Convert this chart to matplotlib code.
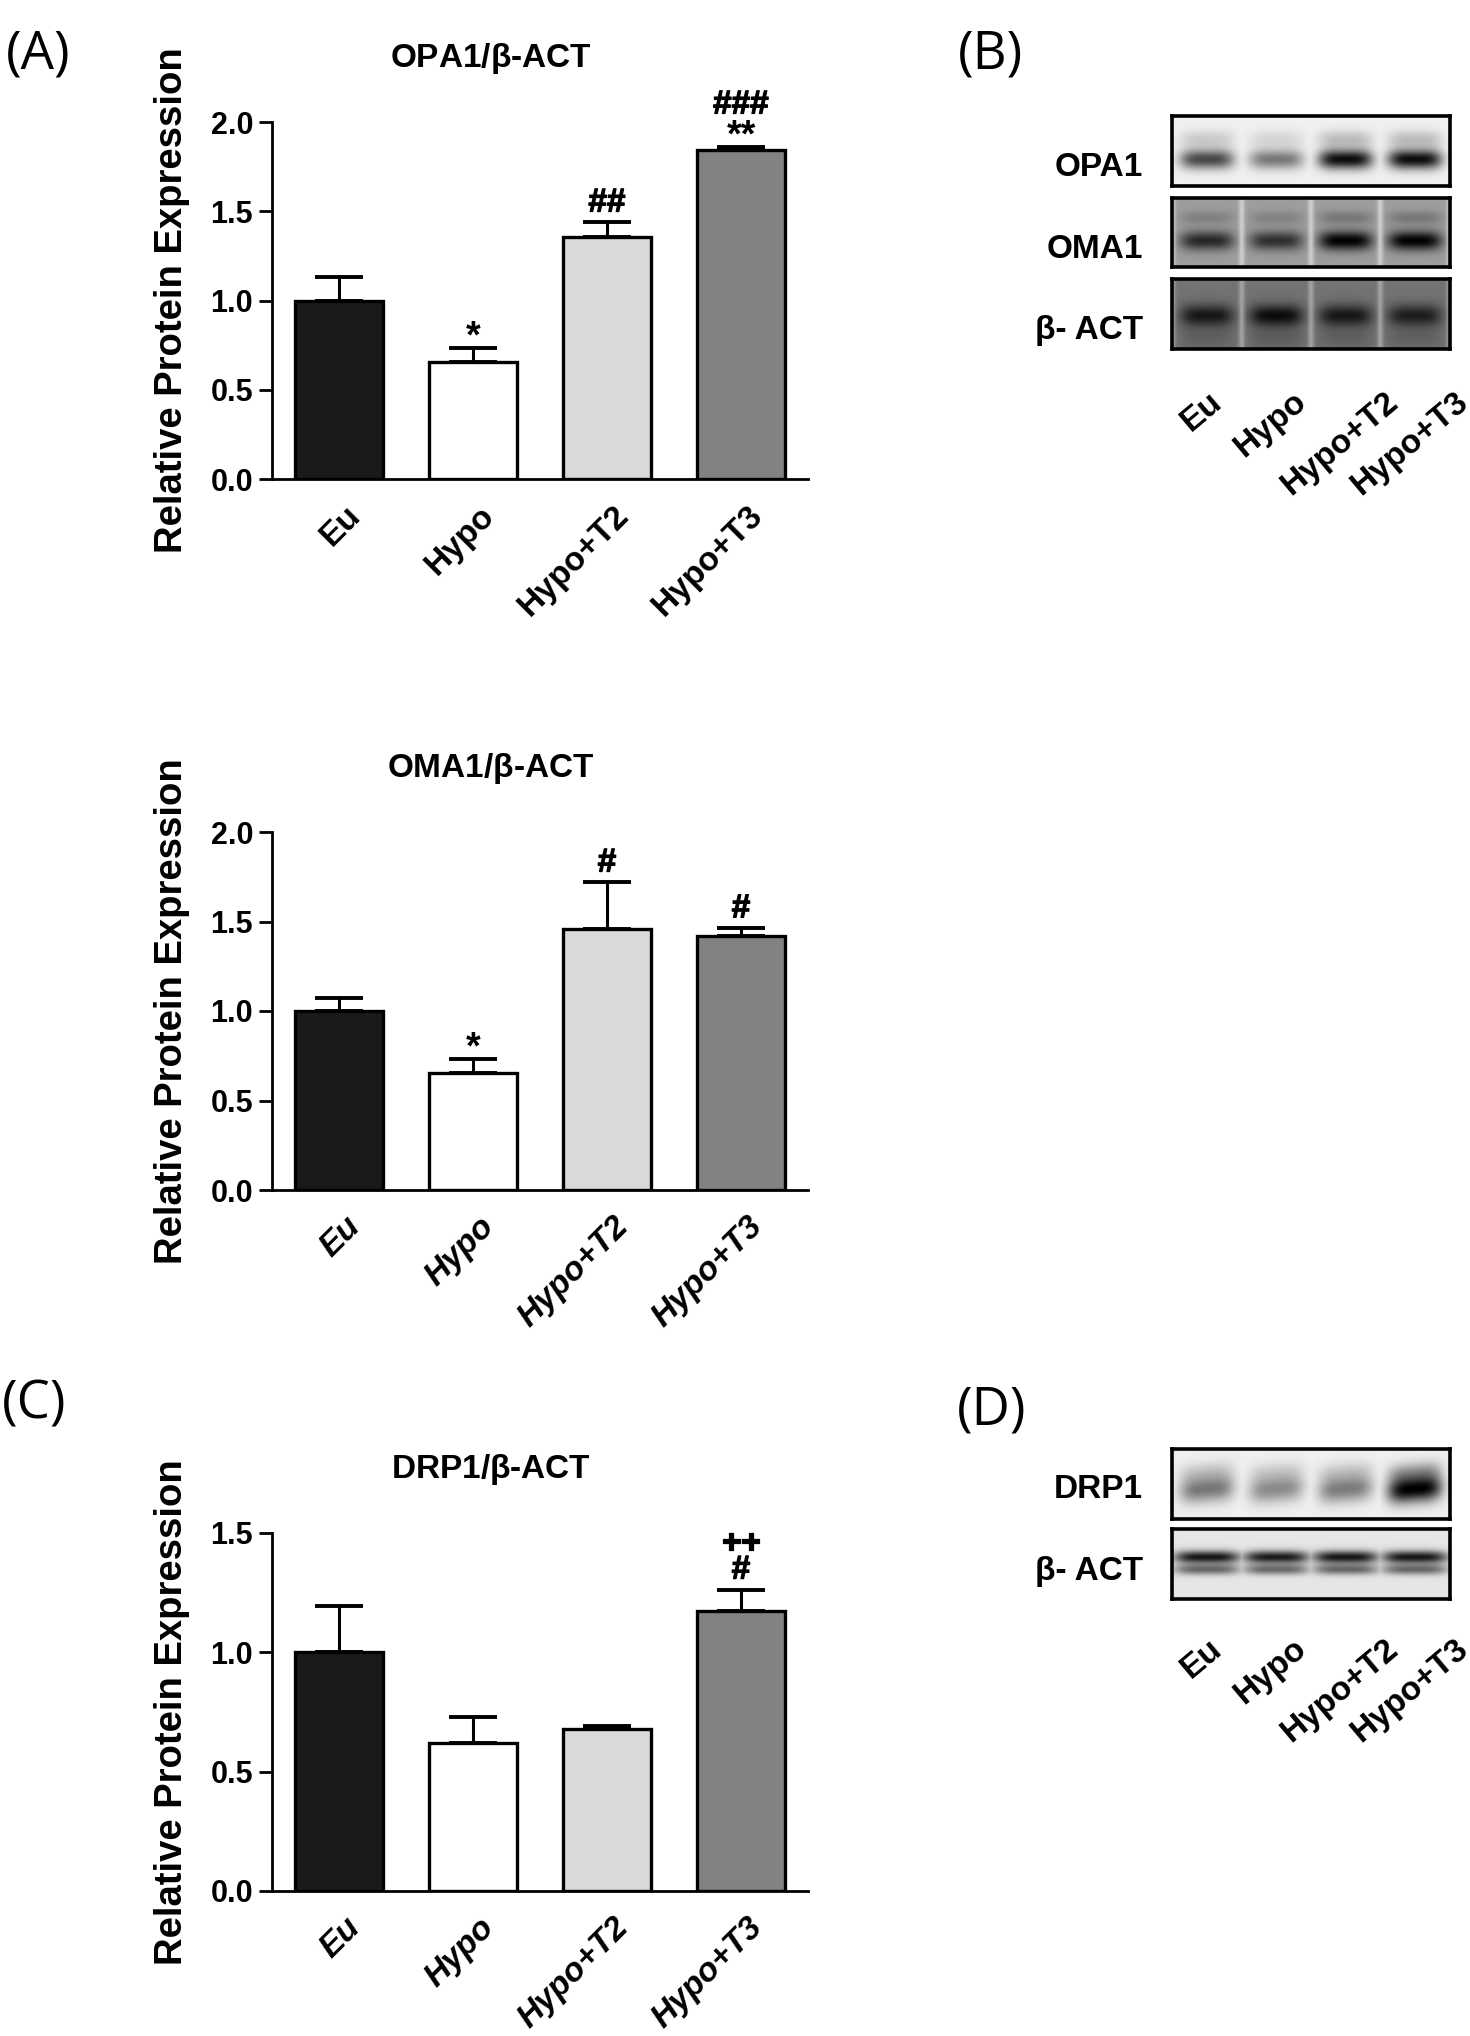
import numpy as np
import matplotlib
matplotlib.use("Agg")
import matplotlib.pyplot as plt
import matplotlib.patheffects as pe
from matplotlib.transforms import ScaledTranslation
from matplotlib import font_manager

# ---------------- data ----------------
groups = ["Eu", "Hypo", "Hypo+T2", "Hypo+T3"]
bar_colors = ["#1a1a1a", "#ffffff", "#d9d9d9", "#828282"]

opa1_mean = [1.00, 0.655, 1.355, 1.843]
opa1_err = [0.13, 0.078, 0.082, 0.015]
opa1_sig1 = ["", "*", "##", "**"]
opa1_sig2 = ["", "", "", "###"]

oma1_mean = [1.00, 0.652, 1.458, 1.420]
oma1_err = [0.075, 0.080, 0.260, 0.042]
oma1_sig1 = ["", "*", "#", "#"]
oma1_sig2 = ["", "", "", ""]

drp1_mean = [1.00, 0.622, 0.680, 1.174]
drp1_err = [0.195, 0.105, 0.012, 0.089]
drp1_sig1 = ["", "", "", "#"]
drp1_sig2 = ["", "", "", "++"]

# western blot band darkness per lane (0 = none, 1 = saturated)
blot_opa1 = [0.70, 0.50, 0.95, 0.95]
blot_oma1 = [0.75, 0.70, 1.00, 1.00]
blot_bact_b = [0.80, 0.90, 0.80, 0.75]
blot_drp1 = [0.50, 0.42, 0.48, 1.00]
blot_bact_d = [0.90, 0.88, 0.90, 0.90]

# ---------------- fonts ----------------
def pick(*names):
    for n in names:
        try:
            font_manager.findfont(n, fallback_to_default=False)
            return n
        except Exception:
            pass
    return "DejaVu Sans"

SANS = pick("Liberation Sans", "Arial")
LETTER = pick("Open Sans", "Noto Sans")
plt.rcParams["font.family"] = [SANS, "DejaVu Sans"]
plt.rcParams["mathtext.fontset"] = "stix"
plt.rcParams["mathtext.default"] = "regular"

W, H = 1470, 2036
fig = plt.figure(figsize=(W / 100, H / 100), dpi=100)
PX = 1 / 100.0  # inches per pixel
HEAVY = [pe.withStroke(linewidth=0.9, foreground="black")]


def fr_x(px):
    return px / W


def fr_y(px):
    return 1 - px / H


def bar_panel(top_px, bot_px, ymax, yticks, means, errs, sig1, sig2, title, italic):
    left, right = 272, 808
    ax = fig.add_axes([fr_x(left), fr_y(bot_px), fr_x(right - left),
                       (bot_px - top_px) / H])
    x = np.arange(len(groups))
    ax.bar(x, means, width=0.655, color=bar_colors, edgecolor="black",
           linewidth=2.4, zorder=2)
    ax.errorbar(x, means, yerr=[np.zeros(len(errs)), errs], fmt="none",
                ecolor="black", elinewidth=2.2, capsize=17, capthick=2.8,
                zorder=3)
    ax.set_xlim(-0.5, 3.5)
    ax.set_ylim(0, ymax)
    for s in ["top", "right"]:
        ax.spines[s].set_visible(False)
    for s in ["left", "bottom"]:
        ax.spines[s].set_linewidth(2.0)
    ax.set_yticks(yticks)
    ax.set_yticklabels([f"{v:.1f}" for v in yticks], fontsize=22,
                       fontweight="bold")
    ax.tick_params(axis="y", length=9.5, width=2.0, pad=4)
    ax.set_xticks(x)
    ax.set_xticklabels(groups, rotation=45, ha="right", va="top",
                       rotation_mode="anchor", fontsize=24, fontweight="bold",
                       fontstyle="italic" if italic else "normal")
    ax.tick_params(axis="x", length=0, pad=15)
    off = ScaledTranslation(6 * PX, 0, fig.dpi_scale_trans)
    for lab in ax.get_xticklabels():
        lab.set_transform(lab.get_transform() + off)
    ax.set_ylabel("Relative Protein Expression", fontsize=27.5,
                  fontweight="bold")
    ax.yaxis.set_label_coords((190 - left) / (right - left), 0.5)
    ax.annotate(title, xy=((491 - left) / (right - left), 1.0),
                xycoords="axes fraction", xytext=(0, 46),
                textcoords="offset points", ha="center", va="center",
                fontsize=24, fontweight="bold")
    tops = np.asarray(means) + np.asarray(errs)
    for i in range(len(groups)):
        star = "*" in sig1[i]
        if sig1[i]:
            ax.annotate(sig1[i], xy=(i, tops[i]), xytext=(0, 7.5 if star else 14),
                        textcoords="offset points", ha="center", va="center",
                        fontsize=27 if star else 24, fontweight="bold",
                        path_effects=None if star else HEAVY)
        if sig2[i]:
            ax.annotate(sig2[i], xy=(i, tops[i]), xytext=(0, 30.5 if star else 33),
                        textcoords="offset points", ha="center", va="center",
                        fontsize=24, fontweight="bold", path_effects=HEAVY)
    return ax


bar_panel(122, 479, 2.0, [0.0, 0.5, 1.0, 1.5, 2.0], opa1_mean, opa1_err,
          opa1_sig1, opa1_sig2, r"OPA1/$\beta$-ACT", False)
bar_panel(832, 1190, 2.0, [0.0, 0.5, 1.0, 1.5, 2.0], oma1_mean, oma1_err,
          oma1_sig1, oma1_sig2, r"OMA1/$\beta$-ACT", True)
bar_panel(1533, 1891, 1.5, [0.0, 0.5, 1.0, 1.5], drp1_mean, drp1_err,
          drp1_sig1, drp1_sig2, r"DRP1/$\beta$-ACT", True)


# ---------------- blots ----------------
def blot_image(dark, bg, centers, sigmas, weights, sep, lane_frac=0.78,
               slant=0.0):
    ny, nx = 70, 278
    yy = np.linspace(0, 1, ny)[:, None]
    xx = np.linspace(-0.5, 3.5, nx)[None, :]
    img = np.full((ny, nx), bg, dtype=float)
    lane = np.round(xx).clip(0, 3)
    dx = xx - lane
    prof_x = np.exp(-(np.abs(dx) / (lane_frac / 2)) ** 4)
    d = np.asarray(dark)[lane.astype(int)]
    total = np.zeros((ny, nx))
    for c, s, w in zip(centers, sigmas, weights):
        cy = c + slant * (-dx)
        total += w * np.exp(-0.5 * ((yy - cy) / s) ** 2)
    img = img - img * np.clip(d * prof_x * total, 0, 1)
    if sep > 0:
        edge = np.exp(-0.5 * ((np.abs(dx) - 0.5) / 0.03) ** 2)
        img = img + sep * edge * (1 - img)
    return np.clip(img, 0, 1)


def blot_panel(top_px, bot_px, img, label, drop_px):
    ax = fig.add_axes([fr_x(1172), fr_y(bot_px), fr_x(1450 - 1172),
                       (bot_px - top_px) / H])
    ax.imshow(img, cmap="gray", vmin=0, vmax=1, aspect="auto",
              extent=(-0.5, 3.5, 1, 0), interpolation="bicubic")
    ax.set_xticks([])
    ax.set_yticks([])
    for s in ax.spines.values():
        s.set_linewidth(2.6)
    off = ScaledTranslation(-29 * PX, -drop_px * PX, fig.dpi_scale_trans)
    ax.text(0, 0.5, label, transform=ax.transAxes + off, ha="right",
            va="baseline", fontsize=24, fontweight="bold")
    return ax


def lane_labels(ax, gap_px):
    off = ScaledTranslation(0, -gap_px * PX, fig.dpi_scale_trans)
    for i, g in enumerate(groups):
        ax.text(i - 0.08, 0, g, transform=ax.get_xaxis_transform() + off,
                rotation=40, ha="center", va="top", fontsize=24,
                fontweight="bold")


img = blot_image(blot_opa1, 0.94, [0.62, 0.33], [0.10, 0.09], [1.0, 0.22], 0.0)
blot_panel(116, 186, img, "OPA1", 25)
img = blot_image(blot_oma1, 0.62, [0.62, 0.28], [0.10, 0.07], [1.0, 0.25], 0.5)
blot_panel(198, 267, img, "OMA1", 25)
img = blot_image(blot_bact_b, 0.45, [0.53, 0.85], [0.11, 0.12], [1.0, 0.2], 0.35)
ax_b = blot_panel(279, 349, img, "β- ACT", 25)
lane_labels(ax_b, 37)

img = blot_image(blot_drp1, 0.94, [0.58, 0.33], [0.13, 0.10], [1.0, 0.3], 0.0,
                 slant=0.08)
blot_panel(1449, 1519, img, "DRP1", 14)
img = blot_image(blot_bact_d, 0.90, [0.40, 0.58], [0.065, 0.055], [1.0, 0.6], 0.0,
                 lane_frac=0.95)
ax_d = blot_panel(1529, 1599, img, "β- ACT", 16)
lane_labels(ax_d, 34)

# ---------------- panel letters ----------------
for txt, x, y in [("(A)", 38, 55), ("(B)", 990, 55), ("(C)", 34, 1405),
                  ("(D)", 992, 1411)]:
    fig.text(fr_x(x), fr_y(y), txt, ha="center", va="center", fontsize=38,
             family=[LETTER, "DejaVu Sans"])

fig.savefig("out.png", dpi=100, facecolor="white")
